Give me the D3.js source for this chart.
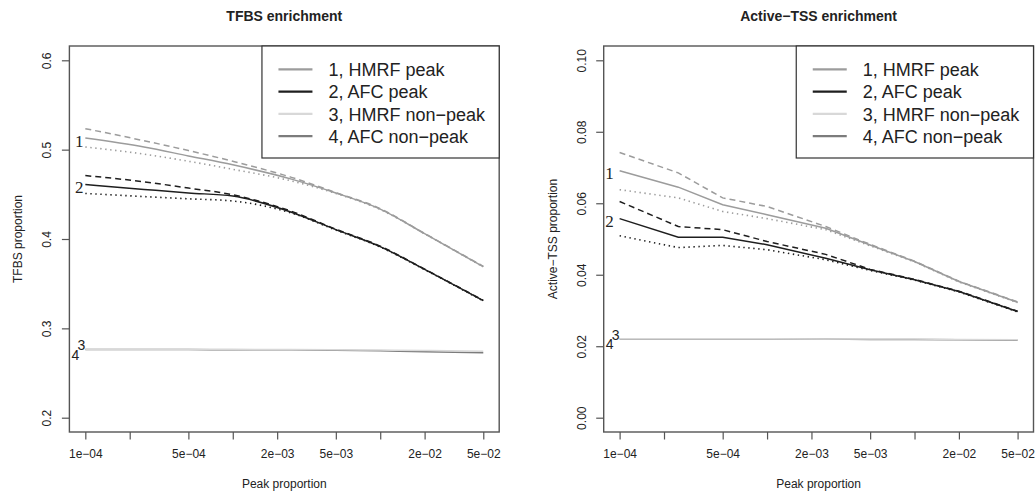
<!DOCTYPE html>
<html>
<head>
<meta charset="utf-8">
<script src="https://cdn.jsdelivr.net/npm/d3@7"></script>
<style>
  html, body { margin: 0; padding: 0; background: #fff; }
  svg { display: block; }
  text { font-family: "Liberation Sans", Arial, Helvetica, sans-serif; fill: #222; }
</style>
</head>
<body>
<svg id="chart" width="1035" height="492"></svg>
<script>
// ---------------- DATA ----------------
const peakProportion = [1e-4, 2.5e-4, 5e-4, 1e-3, 2.5e-3, 5e-3, 1e-2, 2e-2, 5e-2];

const xTicks      = [1e-4, 2e-4, 5e-4, 1e-3, 2e-3, 5e-3, 1e-2, 2e-2, 5e-2];
const xTickLabels = ["1e\u221204", "", "5e\u221204", "", "2e\u221203", "5e\u221203", "", "2e\u221202", "5e\u221202"];

const seriesNames = ["1, HMRF peak", "2, AFC peak", "3, HMRF non\u2212peak", "4, AFC non\u2212peak"];
const seriesTags  = ["1", "2", "3", "4"];

// TFBS enrichment panel
const tfbsTitle = "TFBS enrichment";
const tfbsYLabel = "TFBS proportion";
const tfbsYTicks = [0.2, 0.3, 0.4, 0.5, 0.6];
const tfbsYTickLabels = ["0.2", "0.3", "0.4", "0.5", "0.6"];
const tfbsHmrfPeak      = [0.513, 0.503, 0.493, 0.483, 0.467, 0.4515, 0.4335, 0.406, 0.369];
const tfbsHmrfPeakUpper = [0.5235, 0.510, 0.499, 0.487, 0.469, 0.452, 0.434, 0.4062, 0.3695];
const tfbsHmrfPeakLower = [0.503, 0.495, 0.487, 0.478, 0.465, 0.451, 0.433, 0.4058, 0.3688];
const tfbsAfcPeak       = [0.461, 0.4555, 0.4515, 0.448, 0.430, 0.4105, 0.3915, 0.366, 0.331];
const tfbsAfcPeakUpper  = [0.471, 0.464, 0.457, 0.4495, 0.431, 0.411, 0.392, 0.3663, 0.3313];
const tfbsAfcPeakLower  = [0.451, 0.4475, 0.445, 0.4425, 0.429, 0.410, 0.391, 0.3657, 0.3307];
const tfbsHmrfNonPeak   = [0.2765, 0.2765, 0.2765, 0.2765, 0.2763, 0.276, 0.2757, 0.2752, 0.2745];
const tfbsAfcNonPeak    = [0.2762, 0.2762, 0.2762, 0.2761, 0.276, 0.2755, 0.2748, 0.2738, 0.2728];

// Active-TSS enrichment panel
const tssTitle = "Active\u2212TSS enrichment";
const tssYLabel = "Active\u2212TSS proportion";
const tssYTicks = [0.00, 0.02, 0.04, 0.06, 0.08, 0.10];
const tssYTickLabels = ["0.00", "0.02", "0.04", "0.06", "0.08", "0.10"];
const tssHmrfPeak      = [0.0691, 0.0645, 0.0596, 0.0568, 0.0530, 0.0483, 0.0437, 0.0381, 0.0323];
const tssHmrfPeakUpper = [0.0742, 0.0685, 0.0615, 0.0591, 0.0535, 0.0485, 0.0438, 0.0382, 0.0324];
const tssHmrfPeakLower = [0.0638, 0.0615, 0.0577, 0.0557, 0.0526, 0.0481, 0.0436, 0.0380, 0.0322];
const tssAfcPeak       = [0.0557, 0.0505, 0.0505, 0.0484, 0.0446, 0.0414, 0.0386, 0.0353, 0.0297];
const tssAfcPeakUpper  = [0.0605, 0.0535, 0.0526, 0.0493, 0.0457, 0.0415, 0.0387, 0.0354, 0.0298];
const tssAfcPeakLower  = [0.0509, 0.0476, 0.0482, 0.0470, 0.0442, 0.0412, 0.0385, 0.0352, 0.0296];
const tssHmrfNonPeak   = [0.0221, 0.0221, 0.0221, 0.0221, 0.0220, 0.0220, 0.0220, 0.0219, 0.0218];
const tssAfcNonPeak    = [0.0220, 0.0220, 0.0220, 0.0220, 0.0220, 0.0219, 0.0219, 0.0218, 0.0217];

// ---------------- STYLE ----------------
const seriesColors = ["#9c9c9c", "#1e1e1e", "#d8d8d8", "#7c7c7c"];
const axisColor = "#555";

const panels = [
  { title: tfbsTitle, yLabel: tfbsYLabel, yTicks: tfbsYTicks, yTickLabels: tfbsYTickLabels, yDomain: [0.2, 0.6],
    left: 69.4, right: 499.2, tagDx: -6, curve: d3.curveMonotoneX,
    series: [
      { mean: tfbsHmrfPeak, upper: tfbsHmrfPeakUpper, lower: tfbsHmrfPeakLower },
      { mean: tfbsAfcPeak, upper: tfbsAfcPeakUpper, lower: tfbsAfcPeakLower },
      { mean: tfbsHmrfNonPeak },
      { mean: tfbsAfcNonPeak }
    ] },
  { title: tssTitle, yLabel: tssYLabel, yTicks: tssYTicks, yTickLabels: tssYTickLabels, yDomain: [0, 0.1],
    left: 603.7, right: 1033.5, tagDx: -10, curve: d3.curveLinear,
    series: [
      { mean: tssHmrfPeak, upper: tssHmrfPeakUpper, lower: tssHmrfPeakLower },
      { mean: tssAfcPeak, upper: tssAfcPeakUpper, lower: tssAfcPeakLower },
      { mean: tssHmrfNonPeak },
      { mean: tssAfcNonPeak }
    ] }
];

const svg = d3.select("#chart");
const plotTop = 46, plotBottom = 432;

panels.forEach(p => {
  const g = svg.append("g");
  // 4% extension like R
  const lx0 = Math.log10(peakProportion[0]), lx1 = Math.log10(peakProportion[peakProportion.length - 1]);
  const ext = (lx1 - lx0) * 0.04;
  const x = d3.scaleLog().domain([Math.pow(10, lx0 - ext), Math.pow(10, lx1 + ext)]).range([p.left, p.right]);
  const yext = (p.yDomain[1] - p.yDomain[0]) * 0.04;
  const y = d3.scaleLinear().domain([p.yDomain[0] - yext, p.yDomain[1] + yext]).range([plotBottom, plotTop]);
  const cx = (p.left + p.right) / 2;

  // title
  g.append("text").attr("x", cx).attr("y", 20.7).attr("text-anchor", "middle")
    .style("font-weight", "bold").style("font-size", "14px").text(p.title);

  // x axis
  const xAxis = d3.axisBottom(x).tickValues(xTicks)
    .tickFormat((d, i) => xTickLabels[i]).tickSize(7.5).tickPadding(10);
  const xg = g.append("g").attr("transform", `translate(0,${plotBottom})`).call(xAxis);
  xg.select(".domain").remove();
  xg.selectAll(".tick line").attr("stroke", axisColor).attr("stroke-width", 1.2);
  xg.selectAll(".tick text").style("font-size", "12px").style("font-family", "Liberation Sans, Arial, sans-serif").attr("fill", "#222");

  // y axis
  const yAxis = d3.axisLeft(y).tickValues(p.yTicks).tickFormat((d, i) => p.yTickLabels[i]).tickSize(7.5);
  const yg = g.append("g").attr("transform", `translate(${p.left},0)`).call(yAxis);
  yg.select(".domain").remove();
  yg.selectAll(".tick line").attr("stroke", axisColor).attr("stroke-width", 1.2);
  yg.selectAll(".tick text")
    .attr("x", null).attr("dy", null)
    .attr("transform", "translate(-18,0) rotate(-90)")
    .attr("text-anchor", "middle")
    .style("font-size", "12px").style("font-family", "Liberation Sans, Arial, sans-serif").attr("fill", "#222");

  // axis titles
  g.append("text").attr("x", cx).attr("y", 487.5).attr("text-anchor", "middle")
    .style("font-size", "12px").text("Peak proportion");
  g.append("text").attr("transform", `translate(${p.left - 47.2},${(plotTop + plotBottom) / 2}) rotate(-90)`)
    .attr("text-anchor", "middle").style("font-size", "12px").text(p.yLabel);

  // lines
  const line = vals => d3.line().curve(p.curve).x((d, i) => x(peakProportion[i])).y(d => y(d))(vals);
  const drawOrder = [3, 2, 0, 1];
  drawOrder.forEach(si => {
    const s = p.series[si];
    const col = seriesColors[si];
    if (s.upper) g.append("path").attr("d", line(s.upper)).attr("fill", "none").attr("stroke", col)
      .attr("stroke-width", 1.5).attr("stroke-dasharray", "6,4");
    if (s.lower) g.append("path").attr("d", line(s.lower)).attr("fill", "none").attr("stroke", col)
      .attr("stroke-width", 1.6).attr("stroke-dasharray", "1.4,3.6");
    g.append("path").attr("d", line(s.mean)).attr("fill", "none").attr("stroke", col)
      .attr("stroke-width", 1.5);
  });

  // series tags at line starts
  const x0 = x(peakProportion[0]);
  [0, 1].forEach(si => {
    g.append("text").attr("x", x0 + p.tagDx).attr("y", y(p.series[si].mean[0]) + 3)
      .attr("text-anchor", "middle").attr("dominant-baseline", "central")
      .style("font-family", "'Liberation Serif', 'Times New Roman', serif").style("font-size", "17px")
      .attr("fill", "#333").text(seriesTags[si]);
  });
  g.append("text").attr("x", x0 - 4).attr("y", y(p.series[2].mean[0]) - 4)
    .attr("text-anchor", "middle").attr("dominant-baseline", "central")
    .style("font-size", "14px").attr("fill", "#333").text(seriesTags[2]);
  g.append("text").attr("x", x0 - 10).attr("y", y(p.series[3].mean[0]) + 5)
    .attr("text-anchor", "middle").attr("dominant-baseline", "central")
    .style("font-size", "14px").attr("fill", "#333").text(seriesTags[3]);

  // plot box
  g.append("rect").attr("x", p.left).attr("y", plotTop).attr("width", p.right - p.left).attr("height", plotBottom - plotTop)
    .attr("fill", "none").attr("stroke", axisColor).attr("stroke-width", 1.4);

  // legend
  const legLeft = p.left + (p.right - p.left) * 0.448;
  const legBottom = 158;
  const lg = g.append("g");
  lg.append("rect").attr("x", legLeft).attr("y", plotTop).attr("width", p.right - legLeft).attr("height", legBottom - plotTop)
    .attr("fill", "#fff").attr("stroke", "#333").attr("stroke-width", 1.2);
  seriesNames.forEach((name, i) => {
    const ly = 69.3 + i * 22.3;
    lg.append("line").attr("x1", legLeft + 16.5).attr("x2", legLeft + 50.5).attr("y1", ly).attr("y2", ly)
      .attr("stroke", seriesColors[i]).attr("stroke-width", 2.2);
    lg.append("text").attr("x", legLeft + 66.5).attr("y", ly + 6.6)
      .style("font-size", "18px").attr("fill", "#222").text(name);
  });
});
</script>
</body>
</html>
